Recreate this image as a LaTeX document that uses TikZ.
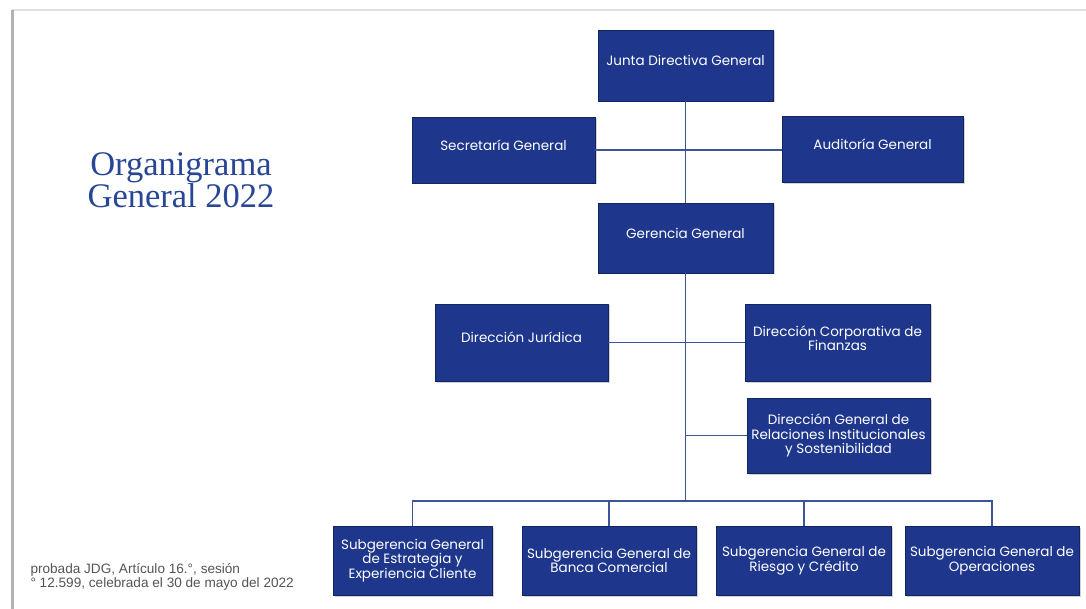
\documentclass[tikz,border=0pt]{standalone}
\usepackage{fontspec}
\setmainfont{Liberation Serif}
\newfontfamily\boxfont{Poppins}
\newfontfamily\notefont{Liberation Sans}
\usetikzlibrary{shadows}
\definecolor{boxblue}{RGB}{30,55,140}
\definecolor{boxedge}{RGB}{18,36,100}
\definecolor{linkblue}{RGB}{60,85,150}
\definecolor{titleblue}{RGB}{40,70,150}
\definecolor{notegray}{RGB}{85,85,85}
\tikzset{
  unit/.style={fill=boxblue, draw=boxedge, line width=0.8pt, text=white,
    align=center, inner sep=2pt,
    font=\boxfont\fontsize{13.5}{14.5}\selectfont,
    drop shadow={opacity=0.35, shadow xshift=1.5pt, shadow yshift=-1.5pt}},
  oneline/.style={text depth=10pt},
  link/.style={draw=linkblue, line width=1.8pt},
}
\begin{document}
\begin{tikzpicture}[x=1pt, y=-1pt]
  \useasboundingbox (0,0) rectangle (1086,609);
  \fill[white] (0,0) rectangle (1086,609);
  % slide edges
  \draw[black!12, line width=2pt] (12,10) -- (1086,10);
  \draw[black!30, line width=3pt] (12,10) -- (12,609);

  % title and approval note
  \node[text=titleblue, align=center, font=\fontsize{34.5}{32.5}\selectfont] (title) at (181,180)
    {Organigrama\\General 2022};
  \node[text=notegray, align=left, anchor=west, font=\notefont\fontsize{13.6}{14.5}\selectfont] (note) at (27,577)
    {probada JDG, Artículo 16.°, sesión\\° 12.599, celebrada el 30 de mayo del 2022};

  % units
  \node[unit, oneline, minimum width=175pt, minimum height=71pt] (junta) at (685.5,65.5) {Junta Directiva General};
  \node[unit, oneline, minimum width=183pt, minimum height=66pt] (secretaria) at (503.5,150) {Secretaría General};
  \node[unit, oneline, minimum width=181pt, minimum height=66pt] (auditoria) at (872.5,149.5) {Auditoría General};
  \node[unit, oneline, minimum width=175pt, minimum height=70pt] (gerencia) at (685.5,238) {Gerencia General};
  \node[unit, oneline, minimum width=173pt, minimum height=77pt] (juridica) at (521.5,342.5) {Dirección Jurídica};
  \node[unit, text depth=9pt, minimum width=185pt, minimum height=77pt] (corporativa) at (837.5,342.5) {Dirección Corporativa de\\Finanzas};
  \node[unit, minimum width=183pt, minimum height=75pt] (relaciones) at (838.5,435.5) {Dirección General de\\Relaciones Institucionales\\y Sostenibilidad};
  \node[unit, minimum width=159pt, minimum height=69pt] (sub1) at (412.5,560.5) {Subgerencia General\\de Estrategia y\\Experiencia Cliente};
  \node[unit, minimum width=174pt, minimum height=69pt] (sub2) at (609,560.5) {Subgerencia General de\\Banca Comercial};
  \node[unit, minimum width=175pt, minimum height=69pt] (sub3) at (804,560.5) {Subgerencia General de\\Riesgo y Crédito};
  \node[unit, minimum width=174pt, minimum height=69pt] (sub4) at (992,560.5) {Subgerencia General de\\Operaciones};

  \coordinate (bus) at (685.5,501);

  % connectors
  \draw[link] (junta.south) -- (gerencia.north);
  \draw[link] (secretaria.east) -- (secretaria.east -| auditoria.west);
  \draw[link] (gerencia.south) -- (bus);
  \draw[link] (juridica.east) -- (juridica.east -| corporativa.west);
  \draw[link] (relaciones.west) -- (relaciones.west -| gerencia.south);
  \draw[link] (sub1.north) |- (bus) -| (sub4.north);
  \draw[link] (sub2.north) -- (sub2.north |- bus);
  \draw[link] (sub3.north) -- (sub3.north |- bus);
\end{tikzpicture}
\end{document}
